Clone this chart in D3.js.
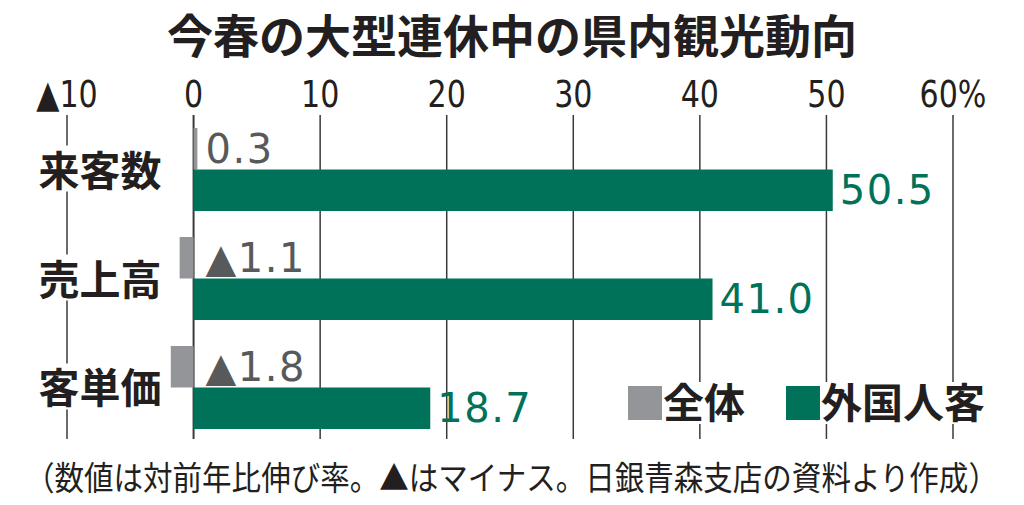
<!DOCTYPE html>
<html><head><meta charset="utf-8">
<script src="https://cdn.jsdelivr.net/npm/d3@7/dist/d3.min.js"></script>
<style>
html,body{margin:0;padding:0;background:#fff;}
svg{display:block;}
</style></head>
<body>
<svg id="chart" width="1024" height="505"></svg>
<script>
const title = "今春の大型連休中の県内観光動向";
const footnote = "（数値は対前年比伸び率。▲はマイナス。日銀青森支店の資料より作成）";
const categories = ["来客数", "売上高", "客単価"];
const seriesNames = ["全体", "外国人客"];
const totalValues = [0.3, -1.1, -1.8];
const foreignValues = [50.5, 41.0, 18.7];
const tickValues = [-10, 0, 10, 20, 30, 40, 50, 60];
const tickLabels = ["▲10", "0", "10", "20", "30", "40", "50", "60%"];

const colors = {"全体": "#939598", "外国人客": "#00725a"};
const labelColors = {"全体": "#58595b", "外国人客": "#00725a"};
const ink = "#231f20";
const CJK = "'Noto Sans CJK JP', sans-serif";

const svg = d3.select("#chart");
const x = d3.scaleLinear().domain([-10, 60]).range([67, 953]);
const y0 = d3.scaleBand().domain(categories).range([115, 442]).paddingInner(0.2385).paddingOuter(0.1193);
const y1 = d3.scaleBand().domain(seriesNames).range([0, y0.bandwidth()]);

const data = categories.map((c, i) => ({
  cat: c,
  values: [{s: "全体", v: totalValues[i]}, {s: "外国人客", v: foreignValues[i]}]
}));

// title
svg.append("text").attr("x", 512).attr("y", 53).attr("text-anchor", "middle")
  .attr("font-family", CJK).attr("font-weight", 700).attr("font-size", 46)
  .attr("fill", ink)
  .text(title);

// gridlines
const gridTop = 115, gridBottom = 439;
svg.append("g").selectAll("line").data(tickValues).join("line")
  .attr("x1", d => x(d)).attr("x2", d => x(d))
  .attr("y1", gridTop).attr("y2", gridBottom)
  .attr("stroke", "#3a3a3a").attr("stroke-width", d => d === 0 ? 2 : 1.5);

// tick labels
svg.append("g").selectAll("text").data(tickValues).join("text")
  .attr("transform", d => `translate(${x(d)},107) scale(0.88,1)`)
  .attr("text-anchor", "middle")
  .attr("font-family", "'Liberation Sans Narrow', 'DejaVu Sans Condensed', sans-serif")
  .attr("font-size", 38).attr("fill", ink)
  .text((d, i) => tickLabels[i]);

// category labels with white background
const catG = svg.append("g");
catG.selectAll("rect").data(categories).join("rect")
  .attr("x", 30).attr("width", 140)
  .attr("y", d => y0(d) + y0.bandwidth() / 2 - 24).attr("height", 46)
  .attr("fill", "#fff");
catG.selectAll("text").data(categories).join("text")
  .attr("x", 100).attr("y", d => y0(d) + y0.bandwidth() / 2 + 16)
  .attr("text-anchor", "middle")
  .attr("font-family", CJK).attr("font-weight", 700).attr("font-size", 41)
  .attr("fill", ink).text(d => d);

// bars
const groups = svg.append("g").selectAll("g").data(data).join("g")
  .attr("transform", d => `translate(0,${y0(d.cat)})`);
groups.selectAll("rect").data(d => d.values).join("rect")
  .attr("x", d => x(Math.min(0, d.v)))
  .attr("width", d => Math.abs(x(d.v) - x(0)))
  .attr("y", d => y1(d.s)).attr("height", y1.bandwidth())
  .attr("fill", d => colors[d.s]);

// value labels
groups.selectAll("text").data(d => d.values).join("text")
  .attr("x", d => d.s === "全体" ? x(0) + 12 : x(d.v) + 7)
  .attr("y", d => y1(d.s) + y1.bandwidth() - 7)
  .attr("font-family", "'DejaVu Sans', sans-serif")
  .attr("font-size", 40).attr("letter-spacing", 1.5)
  .attr("fill", d => labelColors[d.s])
  .text(d => (d.v < 0 ? "▲" + Math.abs(d.v).toFixed(1) : d.v.toFixed(1)));

// legend
const legend = svg.append("g");
legend.append("rect").attr("x", 625).attr("y", 382).attr("width", 362).attr("height", 42).attr("fill", "#fff");
const legendPos = [{s: "全体", x: 628}, {s: "外国人客", x: 786}];
legendPos.forEach(p => {
  legend.append("rect").attr("x", p.x).attr("y", 386).attr("width", 34).attr("height", 34).attr("fill", colors[p.s]);
  legend.append("text").attr("x", p.x + 35).attr("y", 418)
    .attr("font-family", CJK).attr("font-weight", 700).attr("font-size", 41)
    .attr("fill", ink).text(p.s);
});

// footnote
svg.append("text").attr("transform", "translate(25,490) scale(0.895,1)")
  .attr("font-family", CJK).attr("font-size", 33).attr("fill", ink)
  .text(footnote);
</script>
</body></html>
